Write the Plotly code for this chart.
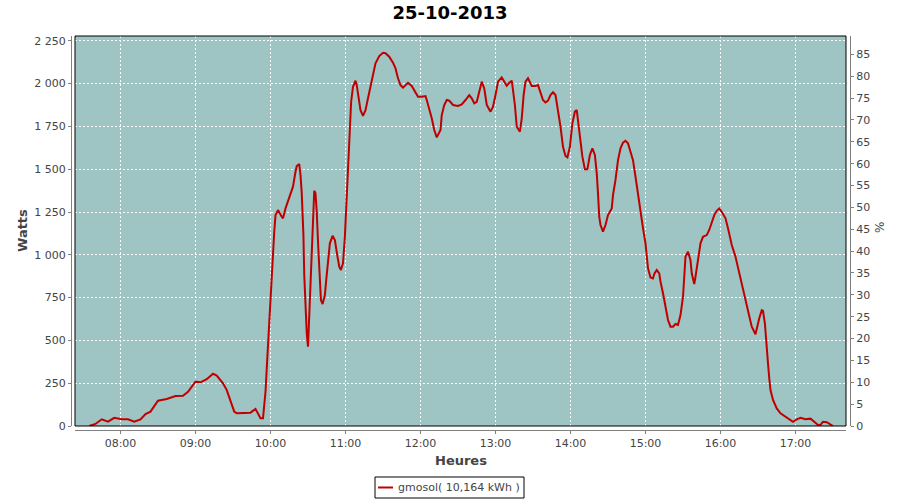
import plotly.graph_objects as go

DAY = "2013-10-25"
TITLE = "25-10-2013"
SERIES_NAME = "gmosol( 10,164 kWh )"

TIMES = [
    "07:35", "07:40", "07:45", "07:50", "07:55", "08:01", "08:06", "08:11", "08:16", "08:20",
    "08:24", "08:30", "08:37", "08:44", "08:50", "08:54", "09:00", "09:04", "09:09", "09:14",
    "09:17", "09:22", "09:25", "09:28", "09:31", "09:33", "09:41", "09:44", "09:48", "09:50",
    "09:52", "09:54", "09:55", "09:56", "09:57", "09:58", "09:59", "10:00", "10:01", "10:02",
    "10:03", "10:04", "10:06", "10:09", "10:10", "10:12", "10:15", "10:18", "10:20", "10:21",
    "10:23", "10:24", "10:25", "10:25:40", "10:26:20", "10:27", "10:28", "10:29", "10:30", "10:31",
    "10:32", "10:33", "10:34", "10:35", "10:36", "10:37", "10:38", "10:39:20", "10:40:20", "10:41:40",
    "10:43:30", "10:44:50", "10:46", "10:47:30", "10:49:40", "10:51:30", "10:53:20", "10:55", "10:56:20", "10:58",
    "10:59:30", "11:00:20", "11:01:20", "11:02", "11:03", "11:03:40", "11:04:30", "11:06", "11:08", "11:09",
    "11:10", "11:12", "11:14", "11:16", "11:18", "11:20", "11:22", "11:24", "11:27", "11:30",
    "11:32", "11:35", "11:38", "11:40", "11:42", "11:44", "11:46", "11:48", "11:50", "11:53",
    "11:56", "11:58", "12:01", "12:04", "12:05", "12:07", "12:09", "12:11", "12:13", "12:16",
    "12:17", "12:19", "12:21", "12:23", "12:26", "12:30", "12:33", "12:36", "12:39", "12:41",
    "12:43", "12:45", "12:47", "12:49", "12:51", "12:53", "12:56", "12:58", "13:00", "13:02",
    "13:05", "13:07", "13:09", "13:11", "13:13", "13:14", "13:15:30", "13:17", "13:19:30", "13:21",
    "13:22:30", "13:24", "13:26", "13:29", "13:32", "13:34", "13:36", "13:38", "13:40", "13:42",
    "13:44", "13:46", "13:48", "13:50", "13:52", "13:54", "13:56", "13:57:30", "13:59:30", "14:01:30",
    "14:03:30", "14:05", "14:06", "14:07:30", "14:09:30", "14:11:30", "14:13:30", "14:15:30", "14:17:30", "14:19:30",
    "14:21", "14:22", "14:23", "14:24", "14:26", "14:28", "14:30", "14:33", "14:34", "14:36",
    "14:38", "14:40", "14:42", "14:44", "14:46", "14:48", "14:50", "14:52", "14:54", "14:56",
    "14:58", "15:00", "15:01", "15:02", "15:04", "15:06", "15:07", "15:09", "15:11", "15:12",
    "15:14", "15:16", "15:18", "15:20", "15:22", "15:24", "15:26", "15:28", "15:30", "15:31",
    "15:32", "15:34", "15:36", "15:37", "15:39", "15:40", "15:42", "15:44", "15:46", "15:49",
    "15:51", "15:53", "15:55", "15:57", "15:59", "16:01", "16:04", "16:06", "16:09", "16:12",
    "16:15", "16:18", "16:21", "16:23", "16:25", "16:28", "16:29", "16:31", "16:33", "16:34",
    "16:35:30", "16:36:30", "16:38", "16:39", "16:40", "16:42", "16:45", "16:48", "16:51", "16:54",
    "16:58", "17:01", "17:04", "17:08", "17:12", "17:15", "17:18", "17:20", "17:22", "17:25",
    "17:28", "17:30",
]

WATTS = [
    0, 12, 39, 25, 48, 39, 39, 25, 39, 70,
    84, 148, 158, 175, 177, 200, 259, 255, 273, 305,
    294, 249, 210, 142, 84, 74, 74, 78, 100, 74,
    45, 45, 123, 200, 337, 483, 638, 784, 901, 1028,
    1135, 1232, 1261, 1222, 1213, 1271, 1339, 1398, 1485, 1518,
    1530, 1466, 1359, 1242, 1115, 882, 668, 541, 463, 638,
    843, 1047, 1261, 1374, 1359, 1251, 1076, 911, 736, 712,
    765, 872, 959, 1067, 1111, 1086, 999, 930, 911, 950,
    1105, 1242, 1417, 1505, 1612, 1768, 1894, 1981, 2017, 1991,
    1943, 1845, 1812, 1845, 1914, 1981, 2060, 2118, 2161, 2180,
    2177, 2157, 2122, 2089, 2031, 1991, 1976, 1991, 2005, 1986,
    1952, 1923, 1923, 1927, 1904, 1855, 1797, 1729, 1686, 1729,
    1816, 1875, 1904, 1900, 1875, 1869, 1879, 1904, 1933, 1914,
    1885, 1894, 1962, 2011, 1972, 1875, 1836, 1865, 1933, 2011,
    2036, 2011, 1987, 2005, 2017, 1962, 1875, 1748, 1719, 1797,
    1933, 2011, 2031, 1986, 1986, 1991, 1952, 1904, 1890, 1900,
    1933, 1949, 1933, 1845, 1748, 1631, 1577, 1569, 1631, 1768,
    1836, 1845, 1787, 1690, 1573, 1499, 1499, 1583, 1622, 1583,
    1476, 1359, 1222, 1174, 1135, 1174, 1232, 1271, 1349, 1437,
    1553, 1622, 1655, 1666, 1651, 1602, 1553, 1456, 1349, 1251,
    1155, 1067, 989, 921, 868, 862, 888, 911, 892, 843,
    775, 687, 619, 580, 580, 596, 590, 648, 755, 872,
    989, 1018, 969, 892, 829, 872, 959, 1067, 1105, 1115,
    1145, 1184, 1232, 1257, 1271, 1251, 1213, 1155, 1057, 989,
    892, 804, 717, 648, 580, 536, 570, 629, 677, 673,
    600, 483, 366, 279, 210, 152, 103, 74, 60, 45,
    25, 39, 48, 39, 43, 25, 6, 6, 25, 22,
    6, 0,
]

X_RANGE = ["07:23:36", "17:40:24"]
Y_RANGE = [0, 2278]
Y2_RANGE = [0, 89.2]
X_TITLE = "Heures"
Y_TITLE = "Watts"
Y2_TITLE = "%"

x = [f"{DAY} {t}" for t in TIMES]

W, H = 900, 500
ML, MR, MT, MB = 71, 50, 36, 70
PW = W - ML - MR
PH = H - MT - MB
OFF = 4


def px_x(px):
    return (px - ML) / PW


def px_y(py):
    return (H - MB - py) / PH


axis_grey = "#808080"
text_grey = "#444444"
line_red = "#c00000"
font_family = "DejaVu Sans, Verdana, sans-serif"

fig = go.Figure()
fig.add_trace(go.Scatter(
    x=x, y=WATTS, mode="lines", name=SERIES_NAME, showlegend=False,
    line=dict(color=line_red, width=2),
))
fig.add_trace(go.Scatter(
    x=[x[0]], y=[None], yaxis="y2", mode="lines", showlegend=False, hoverinfo="skip",
))

# legend box (drawn as shapes + text)
LEG_L, LEG_R, LEG_T, LEG_B = 375, 524, 477, 498
LEG_MID = (LEG_T + LEG_B) / 2

fig.update_layout(
    width=W, height=H,
    margin=dict(l=ML, r=MR, t=MT, b=MB, autoexpand=False),
    paper_bgcolor="white",
    plot_bgcolor="#9ec4c4",
    separators=", ",
    font=dict(family=font_family, size=11, color=text_grey),
    title=dict(text=f"<b>{TITLE}</b>", x=0.5, xref="container", xanchor="center",
               y=1 - 12.5 / H, yref="container", yanchor="middle",
               font=dict(size=18, color="black", family=font_family)),
    xaxis=dict(
        type="date",
        domain=[OFF / PW, 1 - OFF / PW],
        anchor="free", position=0, automargin=False,
        range=[f"{DAY} {X_RANGE[0]}", f"{DAY} {X_RANGE[1]}"],
        tick0=f"{DAY} 08:00", dtick=3600000, tickformat="%H:%M",
        showgrid=True, gridcolor="white", griddash="2px,2px", gridwidth=1,
        showline=True, linecolor=axis_grey, linewidth=1,
        ticks="outside", ticklen=3, tickcolor=axis_grey,
        tickfont=dict(size=11, color=text_grey),
        zeroline=False,
    ),
    yaxis=dict(
        domain=[OFF / PH, 1],
        anchor="free", position=0, automargin=False,
        range=Y_RANGE, dtick=250, tickformat=",d",
        showgrid=True, gridcolor="white", griddash="2px,2px", gridwidth=1,
        showline=True, linecolor=axis_grey, linewidth=1,
        ticks="outside", ticklen=3, tickcolor=axis_grey,
        tickfont=dict(size=11, color=text_grey),
        zeroline=False,
    ),
    yaxis2=dict(
        overlaying="y", side="right", anchor="free", position=1, automargin=False,
        range=Y2_RANGE, dtick=5,
        showgrid=False,
        showline=True, linecolor=axis_grey, linewidth=1,
        ticks="outside", ticklen=3, tickcolor=axis_grey,
        tickfont=dict(size=11, color=text_grey),
        zeroline=False,
    ),
    annotations=[
        dict(text=f"<b>{X_TITLE}</b>", xref="paper", yref="paper", x=px_x(460.5), y=px_y(460),
             showarrow=False, xanchor="center", yanchor="middle",
             font=dict(size=13, color=text_grey)),
        dict(text=f"<b>{Y_TITLE}</b>", xref="paper", yref="paper", x=px_x(22), y=px_y(231),
             showarrow=False, xanchor="center", yanchor="middle", textangle=-90,
             font=dict(size=13, color=text_grey)),
        dict(text=Y2_TITLE, xref="paper", yref="paper", x=px_x(880), y=px_y(228),
             showarrow=False, xanchor="center", yanchor="middle", textangle=-90,
             font=dict(size=12, color=text_grey)),
        dict(text=SERIES_NAME, xref="paper", yref="paper", x=px_x(396), y=px_y(LEG_MID),
             showarrow=False, xanchor="left", yanchor="middle",
             font=dict(size=11, color=text_grey)),
    ],
    shapes=[
        dict(type="rect", xref="x domain", yref="y domain", x0=0, x1=1, y0=0, y1=1,
             line=dict(color="black", width=1), fillcolor="rgba(0,0,0,0)", layer="above"),
        dict(type="rect", xref="paper", yref="paper",
             x0=px_x(LEG_L), x1=px_x(LEG_R), y0=px_y(LEG_B), y1=px_y(LEG_T),
             line=dict(color="black", width=1), fillcolor="white"),
        dict(type="line", xref="paper", yref="paper",
             x0=px_x(378), x1=px_x(393), y0=px_y(LEG_MID), y1=px_y(LEG_MID),
             line=dict(color=line_red, width=2)),
    ],
)

fig.write_html("out.html", config={"displayModeBar": False},
               post_script="document.body.style.margin='0';")
